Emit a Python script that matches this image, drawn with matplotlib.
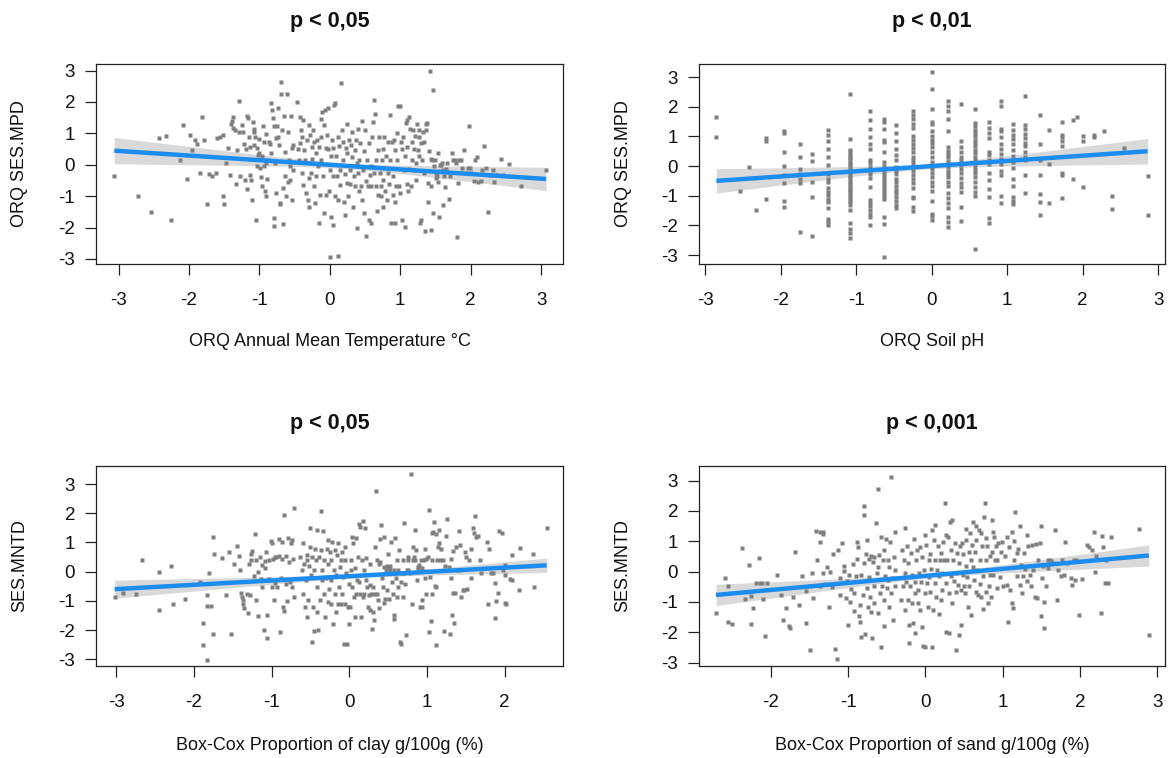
import numpy as np
import matplotlib.pyplot as plt

plt.rcParams['font.family'] = ['Liberation Sans', 'DejaVu Sans']
plt.rcParams['axes.unicode_minus'] = False

# ---------------------------------------------------------------------------
# partial residuals, SES.MPD vs temperature
temp_pts = [
    (-3.06, -0.37), (-2.72, -1.01), (-2.54, -1.49), (-2.25, -1.76), (-2.42, 0.84), (-2.32, 0.93),
    (-2.13, 0.14), (-2.08, 1.28), (-2.03, -0.46), (-1.99, 0.96), (-1.95, 0.46), (-1.92, 0.78),
    (-1.88, 0.67), (-1.85, -0.27), (-1.82, 1.52), (-1.79, 0.80), (-1.74, -1.24), (-1.71, -0.29),
    (-1.68, -0.37), (-1.62, -0.27), (-1.60, 0.84), (-1.56, 0.88), (-1.52, -0.99), (-1.50, -1.24),
    (-1.51, 0.95), (-1.47, 0.05), (-1.44, 0.53), (-1.42, -0.32), (-1.41, 1.31), (-1.38, 1.51),
    (-1.39, 1.38), (-1.37, 1.17), (-1.35, 1.12), (-1.33, -0.61), (-1.32, 0.48), (-1.29, 2.03),
    (-1.29, 1.04), (-1.27, -0.37), (-1.25, 1.27), (-1.24, 1.05), (-1.22, 0.67), (-1.20, -0.50),
    (-1.19, 0.50), (-1.18, -0.78), (-1.17, 1.56), (-1.16, 1.48), (-1.15, 0.88), (-1.14, 0.56),
    (-1.13, -0.33), (-1.12, -0.50), (-1.11, -1.12), (-1.09, 1.37), (-1.08, 1.14), (-1.08, 1.03),
    (-1.07, 0.63), (-1.06, 0.88), (-1.05, -1.76), (-1.04, 0.52), (-1.03, -0.03), (-1.02, 0.31),
    (-1.01, 0.82), (-1.00, 0.37), (-0.99, -0.11), (-0.98, -0.39), (-0.97, -0.69), (-0.96, 0.27),
    (-0.95, 1.22), (-0.94, 0.73), (-0.93, -0.03), (-0.92, -0.85), (-0.91, 0.05), (-0.90, 0.97),
    (-0.90, -0.99), (-0.89, -0.46), (-0.88, 0.16), (-0.86, 0.73), (-0.85, 0.65), (-0.84, 0.39),
    (-0.83, 1.97), (-0.82, 1.76), (-0.81, 1.50), (-0.80, -1.69), (-0.80, -1.95), (-0.79, 1.22),
    (-0.78, 0.05), (-0.77, 0.84), (-0.76, -0.90), (-0.75, 1.22), (-0.74, 0.88), (-0.73, 1.81),
    (-0.72, 0.63), (-0.71, -1.22), (-0.71, -1.24), (-0.70, 2.24), (-0.69, 2.65), (-0.68, 1.12),
    (-0.67, -0.73), (-0.66, -1.90), (-0.65, 1.56), (-0.64, -0.37), (-0.63, 0.41), (-0.62, -1.01),
    (-0.61, 2.24), (-0.60, -0.56), (-0.59, 1.03), (-0.58, 0.16), (-0.57, -0.05), (-0.56, -0.48),
    (-0.55, 1.56), (-0.54, 0.53), (-0.54, -1.12), (-0.53, -0.16), (-0.52, 0.63),
    (-0.47, 1.99), (-0.45, 0.50), (-0.44, 0.16), (-0.42, 1.52), (-0.42, 0.69), (-0.41, 1.12),
    (-0.40, 0.88), (-0.39, -0.27), (-0.38, -0.64), (-0.38, 1.44), (-0.36, 0.48), (-0.35, 0.16),
    (-0.34, -0.90), (-0.33, 0.80), (-0.31, -1.12), (-0.30, -1.33), (-0.30, 1.28), (-0.29, -0.43),
    (-0.28, 0.96), (-0.27, -0.27), (-0.26, 0.56), (-0.25, 0.18), (-0.24, 1.12), (-0.23, -0.69),
    (-0.22, 0.74), (-0.21, -1.22), (-0.20, 0.39), (-0.19, -0.35), (-0.18, 0.78), (-0.17, -0.05),
    (-0.16, -1.84), (-0.15, 0.56), (-0.14, -0.97), (-0.13, 0.90), (-0.12, 0.16), (-0.12, 1.46),
    (-0.11, 1.67), (-0.10, -0.37), (-0.09, 1.27), (-0.08, -1.54), (-0.07, 1.76), (-0.06, 0.54),
    (-0.05, -0.95), (-0.04, 0.95), (-0.03, 1.80), (-0.02, 0.50), (-0.01, -0.85), (0.00, -0.16),
    (0.00, -2.95), (0.01, 0.27), (0.02, -1.65), (0.03, 0.78), (0.04, -1.91), (0.05, -0.37),
    (0.05, 0.52), (0.06, 1.91), (0.07, 1.97), (0.08, -0.99), (0.09, 0.27), (0.10, -0.37),
    (0.11, -2.90), (0.11, 0.90), (0.12, -1.12), (0.13, 0.59), (0.14, -0.16), (0.15, -0.65),
    (0.16, 2.61), (0.17, 1.12), (0.18, 0.16), (0.19, 0.73), (0.20, -1.17), (0.21, -0.29),
    (0.22, -1.60), (0.23, 0.53), (0.24, -0.59), (0.24, 1.31), (0.25, 0.37), (0.26, -1.01),
    (0.27, 0.80), (0.28, -0.16), (0.29, -0.61), (0.30, 0.63), (0.31, 0.24), (0.32, 1.03),
    (0.33, -1.33), (0.34, -0.37), (0.35, 0.48), (0.36, -0.69), (0.37, 0.80), (0.38, -2.02),
    (0.39, 0.05), (0.40, -0.27), (0.40, 1.14), (0.41, -0.85), (0.42, 0.16), (0.43, 0.69),
    (0.44, -0.67), (0.45, -1.12), (0.46, 1.38), (0.47, -0.16), (0.48, -1.54), (0.49, 0.43),
    (0.50, 1.10), (0.51, -0.53), (0.52, -2.27), (0.53, 0.16), (0.54, -0.69), (0.55, 0.69),
    (0.56, -1.76), (0.57, -0.32), (0.58, -1.84), (0.58, -0.05), (0.59, -0.67), (0.60, 0.90),
    (0.61, 1.35), (0.62, -0.27), (0.63, 2.05), (0.64, 1.63), (0.65, 0.16), (0.66, -0.67),
    (0.67, -1.46), (0.68, 0.48), (0.69, -0.96), (0.70, 0.88), (0.71, -0.27), (0.72, -0.69),
    (0.73, -1.01), (0.74, 0.16), (0.75, 0.50), (0.76, -1.33), (0.76, -0.48), (0.77, 0.88),
    (0.78, -0.11), (0.79, -0.85), (0.80, 0.27), (0.81, -1.12), (0.82, -0.27), (0.83, 0.74),
    (0.84, -0.61), (0.85, 1.60), (0.86, 0.16), (0.87, -1.86), (0.88, 0.71), (0.89, -0.96),
    (0.90, -0.37), (0.91, 0.80), (0.92, -1.86), (0.92, -1.20), (0.93, 0.46), (0.94, -0.67),
    (0.95, 1.01), (0.96, 0.16), (0.97, 1.86), (0.98, -0.69), (0.99, -0.90), (1.00, 1.88),
    (1.01, 0.74), (1.02, 0.50), (1.03, -1.76), (1.04, 0.90), (1.05, -0.16), (1.06, -1.97),
    (1.07, 0.27), (1.08, 1.33), (1.09, -0.61), (1.09, 1.44), (1.10, 0.56), (1.11, -0.82),
    (1.12, -0.14), (1.13, 1.52), (1.14, 1.14), (1.15, -0.69), (1.16, 0.71), (1.17, 0.16),
    (1.18, 1.10), (1.19, -0.16), (1.20, 0.50), (1.21, 0.93), (1.22, -0.48), (1.23, 0.05),
    (1.24, 1.31), (1.25, 0.48), (1.26, 0.90), (1.27, 0.27), (1.27, 1.12), (1.28, -1.86),
    (1.29, -1.76), (1.30, 0.69), (1.31, 0.16), (1.32, 1.03), (1.33, 0.71), (1.34, -0.27),
    (1.35, -2.10), (1.36, 1.31), (1.37, 1.10), (1.38, 1.33), (1.39, -0.59), (1.40, -1.20),
    (1.41, 0.43), (1.42, 2.99), (1.43, -2.07), (1.44, 0.18), (1.44, -0.69), (1.45, 0.16),
    (1.46, 2.39), (1.47, -1.54), (1.48, -0.05), (1.49, 0.16), (1.50, -0.43), (1.51, -0.27),
    (1.52, -0.37), (1.53, 0.37), (1.54, -0.56), (1.55, -1.65), (1.56, -0.01), (1.57, -0.21),
    (1.58, -0.01), (1.59, 0.05), (1.60, -0.16), (1.61, -1.28), (1.62, -0.37), (1.63, -0.71),
    (1.65, -0.14), (1.67, 0.05), (1.69, -1.10), (1.71, -0.37), (1.73, 0.37), (1.75, 0.16),
    (1.77, 0.16), (1.79, 0.05), (1.80, -2.29), (1.82, -0.59), (1.84, 0.16), (1.86, 0.16),
    (1.88, -0.11), (1.91, 0.46), (1.93, -0.27), (1.96, -0.11), (1.97, 1.24), (1.99, -0.11),
    (2.01, -0.27), (2.04, -0.53), (2.06, 0.16), (2.09, 0.24), (2.11, -0.56), (2.14, -0.53),
    (2.16, -0.16), (2.19, 0.61), (2.22, -0.11), (2.25, -1.49), (2.28, -0.32), (2.31, -0.16),
    (2.33, -0.56), (2.37, -0.32), (2.43, 0.18), (2.46, -0.32), (2.55, 0.03), (2.72, -0.67),
    (3.07, -0.18),
]

# soil pH takes discrete values: one column of residuals per level
ph_levels = [-2.85, -2.54, -2.42, -2.33, -2.19, -1.95, -1.74, -1.58, -1.37, -1.08, -0.82, -0.63,
             -0.47, -0.24, 0.00, 0.22, 0.39, 0.57, 0.76, 0.92, 1.08, 1.24, 1.43, 1.55, 1.72, 1.87,
             1.92, 2.01, 2.15, 2.28, 2.39, 2.55, 2.86]
ph_ses = [
    [1.65, 0.97],
    [-0.83],
    [-0.04],
    [-1.47],
    [0.93, 0.85, -1.12],
    [1.19, 1.11, 0.48, 0.00, -0.30, -0.58, -1.19, -1.39],
    [0.74, 0.32, -0.10, -0.26, -0.42, -0.58, -2.21],
    [0.40, 0.16, -0.53, -1.05, -2.35],
    [1.21, 1.05, 0.85, 0.59, 0.30, 0.03, -0.28, -0.45, -0.55, -0.73, -0.86, -0.98, -1.10, -1.20,
     -1.41, -1.78, -1.90, -2.00],
    [2.44, 0.91, 0.55, 0.47, 0.39, 0.31, 0.23, 0.15, 0.07, -0.01, -0.09, -0.17, -0.25, -0.33,
     -0.41, -0.49, -0.57, -0.65, -0.73, -0.81, -0.89, -0.97, -1.05, -1.13, -1.21, -1.30, -1.47,
     -1.91, -2.13, -2.27, -2.41],
    [1.87, 1.54, 1.26, 0.97, 0.75, 0.59, 0.21, 0.10, -0.02, -0.13, -0.27, -0.40, -0.71, -1.14,
     -1.25, -1.36, -1.48, -1.61, -1.73, -1.97],
    [1.58, 1.50, 1.26, 0.88, 0.82, 0.46, 0.15, 0.00, -0.10, -0.20, -0.30, -0.40, -0.50, -0.60,
     -0.70, -0.80, -0.90, -1.00, -1.10, -1.71, -1.95, -3.06],
    [1.39, 1.11, 0.83, 0.57, 0.38, 0.21, -0.02, -0.15, -0.28, -0.42, -0.55, -0.68, -0.80, -0.92,
     -1.05, -1.18, -1.30, -1.40],
    [1.87, 1.73, 1.58, 1.41, 1.28, 1.02, 0.88, 0.75, 0.60, 0.47, 0.32, 0.21, 0.10, -0.02, -0.15,
     -0.30, -0.45, -0.58, -0.75, -1.03, -1.09, -1.37, -1.50],
    [3.17, 2.60, 1.93, 1.50, 1.41, 1.19, 1.02, 0.88, 0.77, 0.64, 0.49, 0.32, 0.15, 0.00, -0.11,
     -0.24, -0.36, -0.53, -0.67, -0.84, -1.18, -1.62, -1.68, -1.82],
    [2.18, 2.01, 1.86, 1.59, 1.17, 0.64, 0.52, 0.41, 0.30, 0.18, 0.07, -0.04, -0.15, -0.27,
     -0.38, -0.53, -0.67, -0.92, -1.09, -1.23, -1.40, -1.71, -1.88, -2.04],
    [2.09, 0.85, 0.64, 0.49, 0.32, 0.19, 0.04, -0.11, -0.24, -0.41, -0.56, -0.71, -0.86, -1.39,
     -1.85],
    [1.93, 1.45, 1.34, 1.22, 1.11, 1.00, 0.89, 0.77, 0.66, 0.55, 0.44, 0.32, 0.21, 0.10, -0.02,
     -0.13, -0.24, -0.38, -0.53, -0.70, -0.86, -1.00, -2.80],
    [1.50, 1.28, 1.11, 0.94, 0.49, 0.36, 0.21, 0.07, -0.22, -0.47, -0.78, -1.05, -1.76, -1.91],
    [2.18, 2.03, 1.25, 1.17, 0.97, 0.75, 0.57, 0.40, 0.23, 0.07, -0.16, -0.30, -1.01, -1.23],
    [1.41, 1.22, 1.05, 0.91, 0.74, 0.55, 0.34, 0.15, -0.05, -0.43, -0.66, -1.05, -1.17, -1.28],
    [2.37, 1.39, 1.25, 1.09, 0.94, 0.79, 0.66, 0.49, 0.32, 0.21, -0.30, -0.92],
    [1.71, 0.74, 0.21, -0.30, -0.95, -1.20, -1.65],
    [1.22, 0.07, -1.23],
    [1.47, 1.05, 0.97, 0.83, 0.66, -0.24, -0.30, -1.09],
    [1.54, -0.43],
    [1.65],
    [1.02, 0.83, -0.69],
    [1.05, 0.97],
    [1.19],
    [-1.01, -1.45],
    [0.60],
    [-0.35, -1.65],
]

# partial residuals, SES.MNTD vs clay
clay_pts = [
    (-3.02, -0.86), (-2.91, -0.73), (-2.74, -0.77), (-2.67, 0.39), (-2.45, -1.30), (-2.45, -0.01),
    (-2.29, 0.19), (-2.27, -1.09), (-2.12, -0.95), (-1.92, -0.36), (-1.88, -1.75), (-1.88, -2.50),
    (-1.83, -0.81), (-1.83, -3.01), (-1.83, -1.18), (-1.80, -0.04), (-1.78, -1.16), (-1.76, 1.19),
    (-1.76, -2.14), (-1.74, 0.62), (-1.64, 0.46), (-1.59, -0.79), (-1.55, 0.69), (-1.52, -2.12),
    (-1.48, 0.28), (-1.45, 0.87), (-1.42, 0.53), (-1.41, 0.07), (-1.40, -0.73), (-1.38, -0.86),
    (-1.37, -0.98), (-1.37, -1.11), (-1.35, -1.23), (-1.32, -0.77), (-1.31, -1.41), (-1.29, 0.26),
    (-1.28, -0.79), (-1.27, 0.62), (-1.26, 0.39), (-1.25, 0.71), (-1.23, -0.15), (-1.21, 1.29),
    (-1.20, 0.39), (-1.20, -0.98), (-1.18, -0.01), (-1.17, -1.53), (-1.15, 0.51), (-1.14, -0.25),
    (-1.12, 0.22), (-1.12, -0.52), (-1.10, -2.01), (-1.09, 0.37), (-1.08, 0.14), (-1.07, 0.68),
    (-1.06, -2.26), (-1.06, -1.50), (-1.04, 0.39), (-1.03, -0.25), (-1.01, 1.06), (-1.00, -0.54),
    (-0.99, 0.99), (-0.98, 0.45), (-0.97, -0.98), (-0.96, -0.38), (-0.95, 0.51), (-0.94, 0.49),
    (-0.93, -0.52), (-0.91, 1.13), (-0.90, 0.53), (-0.89, -2.06), (-0.88, -0.23), (-0.87, 1.01),
    (-0.87, 0.42), (-0.85, -1.21), (-0.84, 1.94), (-0.84, -1.34), (-0.82, -0.43), (-0.81, 0.55),
    (-0.80, -1.02), (-0.79, 1.17), (-0.78, 0.33), (-0.76, -0.34), (-0.75, 0.99), (-0.74, -0.52),
    (-0.74, 1.08), (-0.73, 0.44), (-0.71, 2.17), (-0.71, -0.86),
    (-0.63, 0.51), (-0.61, 0.05), (-0.60, -0.75), (-0.60, 0.97), (-0.58, 0.28), (-0.57, -1.21),
    (-0.56, -0.29), (-0.55, 0.39), (-0.54, -1.55), (-0.54, 0.57), (-0.53, -0.98), (-0.52, 0.19),
    (-0.51, 0.83), (-0.50, 1.48), (-0.49, -0.12), (-0.48, 0.51), (-0.48, -2.41), (-0.47, -1.21),
    (-0.46, -2.03), (-0.45, 0.05), (-0.44, 0.79), (-0.43, 0.39), (-0.42, -1.38), (-0.42, 1.42),
    (-0.41, -0.52), (-0.40, -2.01), (-0.39, 0.51), (-0.38, -0.98), (-0.37, 0.74), (-0.37, 2.09),
    (-0.35, -0.29), (-0.35, 0.05), (-0.34, 1.40), (-0.33, -0.75), (-0.32, 0.39), (-0.31, -1.55),
    (-0.30, -0.23), (-0.29, 0.79), (-0.28, -1.03), (-0.28, 1.08), (-0.27, 0.28), (-0.26, -0.58),
    (-0.25, 0.68), (-0.24, -0.29), (-0.23, 0.39), (-0.23, -1.09), (-0.22, 1.02), (-0.21, -1.78),
    (-0.20, 0.05), (-0.19, -0.75), (-0.18, 0.74), (-0.17, -1.38), (-0.17, -0.12), (-0.16, 0.57),
    (-0.15, -1.09), (-0.14, 0.97), (-0.13, -0.52), (-0.12, 0.17), (-0.11, -1.09), (-0.11, 0.39),
    (-0.10, -0.75), (-0.09, 0.68), (-0.08, -0.18), (-0.07, -2.49), (-0.06, 0.39), (-0.05, -1.09),
    (-0.05, 0.85), (-0.04, -0.06), (-0.03, -2.46), (-0.02, -1.21), (-0.01, -0.41), (0.00, -1.78),
    (0.01, -1.21), (0.02, 0.39), (0.02, 0.05), (0.03, 1.19), (0.04, -0.52), (0.05, 0.97),
    (0.06, -0.86), (0.07, 0.11), (0.07, -1.55), (0.08, 1.17), (0.09, -0.75), (0.10, -0.29),
    (0.11, 0.51), (0.12, 1.65), (0.13, -0.35), (0.14, 1.54), (0.14, -0.75), (0.15, -1.55),
    (0.16, 0.39), (0.17, 1.74), (0.18, -0.86), (0.19, 0.05), (0.19, -0.75), (0.20, 1.48),
    (0.21, -0.29), (0.22, 0.46), (0.23, -0.52), (0.24, -1.21), (0.25, -0.81), (0.26, 0.28),
    (0.26, -0.46), (0.27, -1.32), (0.28, -0.75), (0.29, -1.95), (0.30, -0.52), (0.31, -1.38),
    (0.32, -1.66), (0.32, -0.75), (0.33, 0.85), (0.34, 2.77), (0.35, 0.39), (0.36, -0.75),
    (0.37, -0.98), (0.38, 0.28), (0.38, -1.26), (0.39, 0.34), (0.40, 1.13), (0.41, 1.59),
    (0.42, -0.23), (0.43, -0.52), (0.44, 1.19), (0.45, 0.17), (0.45, -1.07), (0.46, -0.92),
    (0.47, 0.05), (0.48, -0.63), (0.49, 0.19), (0.50, 0.62), (0.51, 0.14), (0.51, -0.92),
    (0.52, 0.05), (0.53, 0.19), (0.54, 1.02), (0.55, -0.35), (0.56, -0.75), (0.57, -1.61),
    (0.57, 0.05), (0.58, -1.49), (0.59, 1.17), (0.60, -0.20), (0.61, -0.86), (0.62, 0.39),
    (0.63, -0.52), (0.63, 0.05), (0.64, 0.74), (0.65, -2.41), (0.66, -2.46), (0.67, -0.35),
    (0.68, -0.06), (0.69, -0.86), (0.69, 0.39), (0.70, -0.06), (0.71, 1.67), (0.72, -0.41),
    (0.73, -2.18), (0.74, 0.05), (0.75, 0.39), (0.75, 0.05), (0.76, 0.51), (0.78, -0.06),
    (0.79, 3.34), (0.81, -1.09), (0.82, 0.39), (0.82, 0.83), (0.83, 0.51), (0.84, 1.42),
    (0.85, 0.39), (0.86, 0.74), (0.87, -0.29), (0.88, 0.17), (0.89, 0.11), (0.90, 0.22),
    (0.91, -1.21), (0.92, 0.39), (0.93, -1.21), (0.94, 0.11), (0.94, -0.98), (0.96, 0.39),
    (0.97, 0.79), (0.98, -0.23), (0.99, -0.75), (0.99, 0.45), (1.01, 0.51), (1.02, 2.13),
    (1.03, -2.06), (1.04, -0.18), (1.05, -1.70), (1.06, -0.75), (1.06, 1.31), (1.07, 0.39),
    (1.08, 1.37), (1.09, 1.71), (1.10, -0.50), (1.11, -2.52), (1.12, 1.29), (1.12, -0.54),
    (1.13, 0.39), (1.14, 0.85), (1.15, 0.97), (1.16, 1.42), (1.17, 0.39), (1.18, 0.79),
    (1.20, 0.39), (1.22, -2.03), (1.23, 0.19), (1.25, 1.22), (1.26, 1.79), (1.28, 0.17),
    (1.30, -2.12), (1.31, -0.23), (1.31, 0.42), (1.32, -1.47), (1.33, 0.71), (1.34, -0.73),
    (1.35, -1.75), (1.36, -0.73), (1.37, 0.85), (1.39, 0.05), (1.41, 1.40), (1.42, 0.05),
    (1.43, 0.91), (1.44, -0.86), (1.46, -0.63), (1.48, -0.63), (1.49, 0.68), (1.50, 0.51),
    (1.51, -0.58), (1.54, 0.39), (1.56, 0.79), (1.57, -0.23), (1.59, 1.48), (1.61, 1.33),
    (1.62, 1.90), (1.63, 1.19), (1.65, 1.22), (1.68, 0.39), (1.69, -0.06), (1.77, 1.02),
    (1.79, -1.11), (1.80, 0.79), (1.82, -0.06), (1.85, -0.06), (1.87, -0.38), (1.87, -1.57),
    (1.89, -1.00), (1.91, -0.73), (1.93, 1.39), (1.96, 1.33), (1.98, 0.05), (2.00, -0.12),
    (2.01, -1.07), (2.07, -0.25), (2.09, 0.57), (2.18, -0.63), (2.20, 0.80), (2.02, -1.10),
    (2.37, 0.60), (2.38, -0.51), (2.54, 1.48), (2.00, 0.24), (2.09, -0.30),
]

# partial residuals, SES.MNTD vs sand
sand_pts = [
    (-2.71, -1.35), (-2.60, -0.22), (-2.55, -0.49), (-2.55, -1.65), (-2.50, -1.72), (-2.37, 0.79),
    (-2.33, -0.91), (-2.28, 0.22), (-2.26, -0.80), (-2.26, -1.74), (-2.23, -1.21), (-2.19, -0.38),
    (-2.15, 0.44), (-2.14, -0.36), (-2.11, -0.38), (-2.07, -2.12), (-2.10, -0.91), (-2.05, -0.36),
    (-1.92, -0.11), (-1.87, -0.77), (-1.84, -1.59), (-1.81, -1.21), (-1.77, -1.79), (-1.75, -1.87),
    (-1.71, -0.82), (-1.69, 0.63), (-1.64, -1.10), (-1.60, -0.16), (-1.55, -1.70), (-1.54, -0.63),
    (-1.50, -2.58), (-1.47, -0.05), (-1.45, -0.88), (-1.41, 1.34), (-1.37, 1.29), (-1.33, 1.24),
    (-1.32, 1.32), (-1.40, 0.38), (-1.37, 0.97), (-1.36, -0.47), (-1.33, -0.03), (-1.30, -0.42),
    (-1.27, 0.14), (-1.25, -1.15), (-1.23, 0.00), (-1.21, -0.52), (-1.19, 0.57), (-1.17, -2.56),
    (-1.14, -2.89), (-1.13, 0.71), (-1.11, -0.77), (-1.10, -0.22), (-1.08, 0.93), (-1.06, 0.03),
    (-1.05, 0.19), (-1.03, -0.88), (-1.02, -0.30), (-1.00, -1.76), (-0.99, -0.11), (-0.98, -0.99),
    (-0.96, -0.58), (-0.94, 0.25), (-0.93, -1.29), (-0.92, -0.71), (-0.90, -0.16), (-0.89, 0.40),
    (-0.88, 0.96), (-0.87, 0.82), (-0.86, -1.46), (-0.85, -1.10), (-0.85, -1.65), (-0.84, -2.14),
    (-0.83, -0.11), (-0.81, -0.77), (-0.80, 0.27), (-0.80, 1.87), (-0.79, 2.16), (-0.78, -2.06),
    (-0.77, 0.58), (-0.76, -0.55), (-0.75, 1.04), (-0.74, -1.15), (-0.73, 0.40), (-0.73, -0.19),
    (-0.72, -0.85), (-0.71, 0.52), (-0.70, -1.32), (-0.69, -2.20), (-0.68, 0.33), (-0.67, -0.47),
    (-0.67, -1.02), (-0.66, 0.49), (-0.64, 1.61), (-0.63, -0.05), (-0.62, 0.16), (-0.61, 2.71),
    (-0.61, -1.35), (-0.60, 0.55), (-0.59, -0.71), (-0.58, -2.47), (-0.57, 1.13), (-0.56, -0.47),
    (-0.55, 0.38), (-0.54, -1.79), (-0.54, 0.71), (-0.53, -0.93), (-0.52, -0.16), (-0.51, 1.07),
    (-0.50, -0.55), (-0.49, 0.38), (-0.48, -0.27), (-0.47, -1.15), (-0.47, 0.16), (-0.46, 0.99),
    (-0.45, -0.71), (-0.44, 3.12), (-0.43, -0.22), (-0.42, -1.59), (-0.41, 0.49), (-0.40, -0.49),
    (-0.40, 1.32), (-0.39, 0.06),
    (-0.31, -0.93), (-0.30, 0.72), (-0.29, -0.49), (-0.28, 0.39), (-0.27, -1.26), (-0.27, -0.05),
    (-0.26, 1.43), (-0.25, -0.33), (-0.24, 0.83), (-0.23, -0.95), (-0.22, 0.27), (-0.21, -1.76),
    (-0.21, -2.36), (-0.20, -0.47), (-0.19, 0.61), (-0.18, -1.04), (-0.17, -0.11), (-0.16, -1.70),
    (-0.15, 1.07), (-0.14, -0.71), (-0.14, -0.33), (-0.13, -2.01), (-0.12, 0.39), (-0.11, 0.72),
    (-0.10, -1.04), (-0.09, -0.60), (-0.08, -0.05), (-0.07, 0.80), (-0.07, -1.26), (-0.06, -0.33),
    (-0.05, 0.47), (-0.04, -1.81), (-0.03, -2.45), (-0.02, 0.06), (-0.01, 1.21), (-0.01, -0.71),
    (0.00, -2.47), (0.01, 0.88), (0.02, -0.38), (0.03, -1.15), (0.04, 0.39), (0.05, -0.19),
    (0.06, 0.58), (0.06, -0.66), (0.07, 0.08), (0.08, 1.37), (0.09, -2.47), (0.10, -1.26),
    (0.11, 1.05), (0.12, 0.39), (0.13, -0.38), (0.13, 1.54), (0.14, -0.82), (0.15, 0.06),
    (0.16, 0.83), (0.17, -1.40), (0.18, -0.16), (0.19, 0.39), (0.20, -0.93), (0.20, 0.61),
    (0.21, -0.05), (0.22, -0.60), (0.23, 0.99), (0.24, 0.39), (0.25, 2.27), (0.26, -0.38),
    (0.26, 1.21), (0.27, -1.98), (0.28, 0.39), (0.29, 1.15), (0.30, -0.71), (0.31, -2.03),
    (0.32, 1.62), (0.33, -0.16), (0.33, 0.72), (0.34, 1.70), (0.35, -1.04), (0.36, 0.39),
    (0.37, -0.30), (0.38, 0.94), (0.39, -2.58), (0.40, -0.66), (0.40, -0.05), (0.41, 0.61),
    (0.42, -0.44), (0.43, -2.09), (0.44, 0.27), (0.45, 0.83), (0.46, -0.60), (0.46, -1.76),
    (0.47, 0.94), (0.48, -0.11), (0.49, 0.58), (0.50, -0.47), (0.51, -0.71), (0.52, 0.17),
    (0.53, 1.40), (0.53, 1.05), (0.54, -0.19), (0.55, -1.15), (0.56, 0.66), (0.57, -0.49),
    (0.58, 1.26), (0.59, 0.39), (0.59, -1.43), (0.60, 0.88), (0.61, 0.14), (0.62, 1.62),
    (0.63, -0.27), (0.64, 0.66), (0.65, -0.66), (0.66, 1.05), (0.66, 1.51), (0.67, 0.06),
    (0.68, -0.77), (0.69, 1.37), (0.70, 0.39), (0.71, -0.41), (0.72, 1.26), (0.72, -0.82),
    (0.73, 0.85), (0.74, -0.16), (0.75, -1.24), (0.76, 1.79), (0.77, 2.27), (0.78, 1.10),
    (0.79, -0.66), (0.79, 0.39), (0.80, 0.83), (0.81, -1.04), (0.82, -0.49), (0.83, -0.11),
    (0.84, 0.50), (0.85, -0.82), (0.86, 0.66), (0.86, 1.70), (0.87, -0.11), (0.88, 1.32),
    (0.89, 1.15), (0.90, 0.39), (0.91, 0.85), (0.92, -0.55), (0.92, 0.39), (0.94, 0.94),
    (0.96, -0.19), (0.98, 0.63), (0.99, 0.99), (1.01, -0.49), (1.03, 0.50), (1.05, -0.44),
    (1.06, 1.13), (1.07, -1.65), (1.08, 0.80), (1.10, -0.60), (1.12, 1.32), (1.12, -1.02),
    (1.13, -1.21), (1.14, 0.39), (1.15, 1.02), (1.16, 1.95), (1.18, 0.61), (1.19, -0.16),
    (1.20, 0.74), (1.22, 1.49), (1.23, -0.44), (1.24, 0.22), (1.25, -0.71), (1.26, -0.16),
    (1.27, 0.61), (1.29, 0.08), (1.31, -0.30), (1.32, 1.21), (1.33, 0.85), (1.35, -0.11),
    (1.37, -0.47), (1.38, 0.88), (1.39, 0.06), (1.42, -0.85), (1.43, 0.91), (1.45, -0.88),
    (1.46, 0.39), (1.48, 0.94), (1.49, -1.46), (1.50, 1.51), (1.51, -0.22), (1.52, 0.19),
    (1.53, -1.87), (1.54, -0.99), (1.56, -0.49), (1.58, 0.39), (1.59, 0.11), (1.61, 0.39),
    (1.63, 0.36), (1.65, 0.27), (1.68, 1.37), (1.70, -0.95), (1.72, 0.06), (1.75, -0.14),
    (1.77, 0.39), (1.79, -0.11), (1.81, 0.96), (1.83, 0.27), (1.88, -0.22), (1.90, -0.44),
    (1.92, 0.39), (1.93, -0.27), (1.95, 0.39), (1.99, -1.43), (2.03, -0.25), (2.09, 0.88),
    (2.12, 0.80), (2.16, 0.72), (2.18, 1.32), (2.20, 0.00), (2.21, 0.50), (2.27, -1.37),
    (2.28, 1.18), (2.30, 0.80), (2.32, -0.36), (2.34, 0.39), (2.36, -0.36), (2.40, 1.13),
    (2.76, 1.39), (2.89, -2.09),
]

# fitted line (intercept, slope) and 95% band half-width at the centre / at the widest end
temp_fit = (0.00, -0.147, 0.09, 0.42)
ph_fit = (0.00, 0.175, 0.09, 0.43)
clay_fit = (-0.155, 0.147, 0.07, 0.31)
sand_fit = (-0.14, 0.232, 0.08, 0.35)

titles = ['p < 0,05', 'p < 0,01', 'p < 0,05', 'p < 0,001']
xlabels = ['ORQ Annual Mean Temperature °C', 'ORQ Soil pH',
           'Box-Cox Proportion of clay g/100g (%)', 'Box-Cox Proportion of sand g/100g (%)']
ylabels = ['ORQ SES.MPD', 'ORQ SES.MPD', 'SES.MNTD', 'SES.MNTD']

# ---------------------------------------------------------------------------
W, H = 1169, 758
fig = plt.figure(figsize=(W / 100, H / 100), dpi=100)
fig.patch.set_facecolor('white')

def px_rect(x0, y0, x1, y1):
    return [x0 / W, 1 - y1 / H, (x1 - x0) / W, (y1 - y0) / H]

ph_x = np.concatenate([[lv] * len(v) for lv, v in zip(ph_levels, ph_ses)])
ph_y = np.concatenate(ph_ses)

panels = [
    (px_rect(96, 64, 563, 264), np.array(temp_pts)[:, 0], np.array(temp_pts)[:, 1], temp_fit,
     (-3.32, 3.31), (-3.16, 3.21), range(-3, 4)),
    (px_rect(699, 64, 1165, 264), ph_x, ph_y, ph_fit,
     (-3.08, 3.09), (-3.30, 3.44), range(-3, 4)),
    (px_rect(96, 466, 563, 666), np.array(clay_pts)[:, 0], np.array(clay_pts)[:, 1], clay_fit,
     (-3.26, 2.75), (-3.23, 3.62), range(-3, 3)),
    (px_rect(699, 466, 1165, 666), np.array(sand_pts)[:, 0], np.array(sand_pts)[:, 1], sand_fit,
     (-2.93, 3.10), (-3.11, 3.48), range(-2, 4)),
]

for i, (rect, x, y, fit, xlim, ylim, xt) in enumerate(panels):
    ax = fig.add_axes(rect)
    b0, b1, h0, h1 = fit
    xs = np.linspace(x.min(), x.max(), 200)
    xc = x.mean()
    k = np.sqrt(h1 ** 2 - h0 ** 2) / max(xc - x.min(), x.max() - xc)
    hw = np.sqrt(h0 ** 2 + (k * (xs - xc)) ** 2)
    fitted = b0 + b1 * xs
    ax.fill_between(xs, fitted - hw, fitted + hw, color='#d9d9d9', lw=0, zorder=1)
    ax.plot(x, y, 's', ms=2.4, color='#7f7f7f', mec='none', zorder=2)
    ax.plot(xs, fitted, color='#1b8cf0', lw=3.2, solid_capstyle='butt', zorder=3)

    ax.set_xlim(*xlim)
    ax.set_ylim(*ylim)
    ax.set_xticks(list(xt))
    ax.set_yticks(range(-3, 4))
    ax.tick_params(direction='out', length=8, width=0.9, color='#222222',
                   labelsize=13.5, labelcolor='#111111')
    ax.tick_params(axis='x', pad=12)
    ax.tick_params(axis='y', pad=7)
    for sp in ax.spines.values():
        sp.set_linewidth(0.9)
        sp.set_color('#222222')

    cx = rect[0] + rect[2] / 2
    cy = rect[1] + rect[3] / 2
    top = i < 2
    fig.text(cx, 1 - (22 if top else 423) / H, titles[i], ha='center', va='center',
             fontsize=15.5, fontweight='bold', color='#111111')
    fig.text(cx, 1 - (341 if top else 745) / H, xlabels[i], ha='center', va='center',
             fontsize=13, color='#111111')
    fig.text((20 if i % 2 == 0 else 623) / W, cy, ylabels[i], ha='center', va='center',
             rotation=90, fontsize=13, color='#111111')

fig.savefig('out.png', dpi=100, facecolor='white')
